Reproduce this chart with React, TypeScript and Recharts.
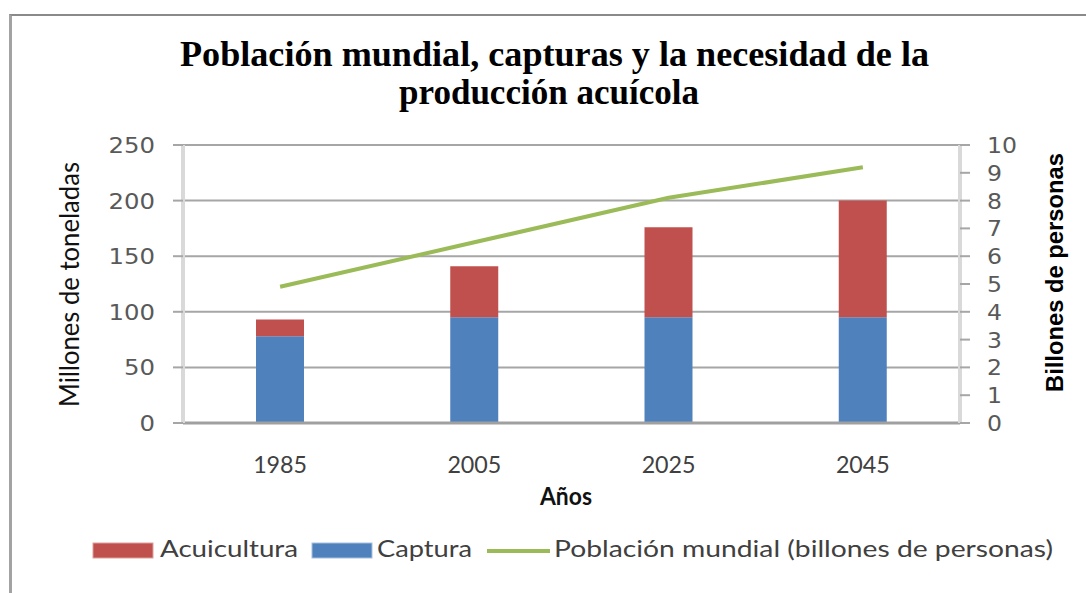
import React from 'react';
import {
  ComposedChart, Bar, Line, XAxis, YAxis, CartesianGrid, Legend,
} from 'recharts';

const years = ['1985', '2005', '2025', '2045'];
const captura = [78, 95, 95, 95];
const acuicultura = [15, 46, 81, 105];
const poblacion = [4.9, 6.5, 8.1, 9.2];
const leftTicks = [0, 50, 100, 150, 200, 250];
const rightTicks = [0, 1, 2, 3, 4, 5, 6, 7, 8, 9, 10];

const titleLines = ['Población mundial, capturas y la necesidad de la', 'producción acuícola'];
const leftAxisTitle = 'Millones de toneladas';
const rightAxisTitle = 'Billones de personas';
const xAxisTitle = 'Años';
const seriesNames = {
  acuicultura: 'Acuicultura',
  captura: 'Captura',
  poblacion: 'Población mundial (billones de personas)',
};

const COLORS = { acuicultura: '#C0504D', captura: '#4F81BD', poblacion: '#9BBB59' };

const data = years.map((y, i) => ({
  year: y,
  captura: captura[i],
  acuicultura: acuicultura[i],
  poblacion: poblacion[i],
}));

const SANS = "Lato, 'Open Sans', sans-serif";

const LeftTick = (props: any) => {
  const { x, y, payload } = props;
  const s = String(payload.value);
  return (
    <text x={x - 18} y={y + 8} textAnchor="end" fontFamily="'DejaVu Sans', sans-serif" fontSize={22}
      fill="#595959" textLength={s.length * 15.5} lengthAdjust="spacingAndGlyphs">{s}</text>
  );
};

const RightTick = (props: any) => {
  const { x, y, payload } = props;
  const s = String(payload.value);
  return (
    <text x={x + 17} y={y + 8} textAnchor="start" fontFamily="'DejaVu Sans', sans-serif" fontSize={22}
      fill="#595959" textLength={s.length * 15} lengthAdjust="spacingAndGlyphs">{s}</text>
  );
};

const XTick = (props: any) => {
  const { x, y, payload } = props;
  return (
    <text x={x} y={y + 50} textAnchor="middle" fontFamily={SANS} fontSize={23} fill="#404040"
      textLength={54} lengthAdjust="spacingAndGlyphs">{payload.value}</text>
  );
};

const renderLegend = () => (
  <svg width={1086} height={60} style={{ display: 'block' }}>
    <rect x={93} y={10} width={60} height={15} fill={COLORS.acuicultura} stroke="#dca09e" strokeWidth={1} />
    <text x={160} y={24} fontFamily={SANS} fontSize={24} fill="#404040" textLength={138}
      lengthAdjust="spacingAndGlyphs">{seriesNames.acuicultura}</text>
    <rect x={312} y={10} width={60} height={15} fill={COLORS.captura} stroke="#a7c0de" strokeWidth={1} />
    <text x={377} y={24} fontFamily={SANS} fontSize={24} fill="#404040" textLength={95}
      lengthAdjust="spacingAndGlyphs">{seriesNames.captura}</text>
    <line x1={487} x2={550} y1={18} y2={18} stroke={COLORS.poblacion} strokeWidth={4} />
    <text x={554} y={24} fontFamily={SANS} fontSize={24} fill="#404040" textLength={499}
      lengthAdjust="spacingAndGlyphs">{seriesNames.poblacion}</text>
  </svg>
);

const leftLabel = () => (
  <text transform="translate(79,284.5) rotate(-90)" textAnchor="middle" fontFamily={SANS} fontSize={26}
    fill="#111" textLength={245} lengthAdjust="spacingAndGlyphs">{leftAxisTitle}</text>
);

const rightLabel = () => (
  <text transform="translate(1063,272.5) rotate(-90)" textAnchor="middle"
    fontFamily="'Liberation Sans', Arial, sans-serif" fontWeight="bold" fontSize={24}
    fill="#000" textLength={239} lengthAdjust="spacingAndGlyphs">{rightAxisTitle}</text>
);

const xLabel = () => (
  <text x={566} y={505} textAnchor="middle" fontFamily={SANS} fontWeight="bold" fontSize={24}
    fill="#111" textLength={52} lengthAdjust="spacingAndGlyphs">{xAxisTitle}</text>
);

export default function App() {
  return (
    <div style={{ position: 'fixed', left: 0, top: 0, width: 1086, height: 593, background: '#fff', overflow: 'hidden' }}>
      <div style={{
        position: 'absolute', left: 9, top: 14, width: 1200, height: 700,
        borderTop: '2px solid #8a8a8a', borderLeft: '3px solid #a3a3a3',
      }} />
      <div style={{ position: 'absolute', left: 0, top: 0 }}>
        <ComposedChart width={1086} height={593} data={data}
          margin={{ top: 145, right: 0, bottom: 0, left: 0 }}>
          <CartesianGrid vertical={false} yAxisId="left" stroke="#a6a6a6" strokeWidth={2} />
          <XAxis dataKey="year" height={110} tickSize={0} tickMargin={0} tickLine={false}
            axisLine={{ stroke: '#a0a0a0', strokeWidth: 3 }} tick={XTick} interval={0} label={xLabel} />
          <YAxis yAxisId="left" orientation="left" width={183} domain={[0, 250]} ticks={leftTicks}
            interval={0} tickSize={10} tickMargin={0} allowDataOverflow
            tickLine={{ stroke: '#a6a6a6', strokeWidth: 2 }}
            axisLine={{ stroke: '#d9d9d9', strokeWidth: 4 }} tick={LeftTick} label={leftLabel} />
          <YAxis yAxisId="right" orientation="right" width={126} domain={[0, 10]} ticks={rightTicks}
            interval={0} tickSize={10} tickMargin={0} allowDataOverflow
            tickLine={{ stroke: '#a6a6a6', strokeWidth: 2 }}
            axisLine={{ stroke: '#d9d9d9', strokeWidth: 4 }} tick={RightTick} label={rightLabel} />
          <Bar yAxisId="left" dataKey="captura" name={seriesNames.captura} stackId="s"
            fill={COLORS.captura} barSize={48} isAnimationActive={false} />
          <Bar yAxisId="left" dataKey="acuicultura" name={seriesNames.acuicultura} stackId="s"
            fill={COLORS.acuicultura} barSize={48} isAnimationActive={false} />
          <Line yAxisId="right" type="linear" dataKey="poblacion" name={seriesNames.poblacion}
            stroke={COLORS.poblacion} strokeWidth={4} dot={false} activeDot={false}
            isAnimationActive={false} />
          <Legend verticalAlign="bottom" height={60} content={renderLegend}
            wrapperStyle={{ left: 0, top: 533, bottom: 'auto', width: 1086, height: 60 }} />
        </ComposedChart>
      </div>
      <svg width={1086} height={130} style={{ position: 'absolute', left: 0, top: 0, pointerEvents: 'none' }}>
        <text x={554.5} y={66} textAnchor="middle" fontFamily="'Liberation Serif', 'Times New Roman', serif"
          fontWeight="bold" fontSize={35} fill="#000" textLength={749} lengthAdjust="spacingAndGlyphs">{titleLines[0]}</text>
        <text x={549} y={104} textAnchor="middle" fontFamily="'Liberation Serif', 'Times New Roman', serif"
          fontWeight="bold" fontSize={35} fill="#000" textLength={300} lengthAdjust="spacingAndGlyphs">{titleLines[1]}</text>
      </svg>
    </div>
  );
}
